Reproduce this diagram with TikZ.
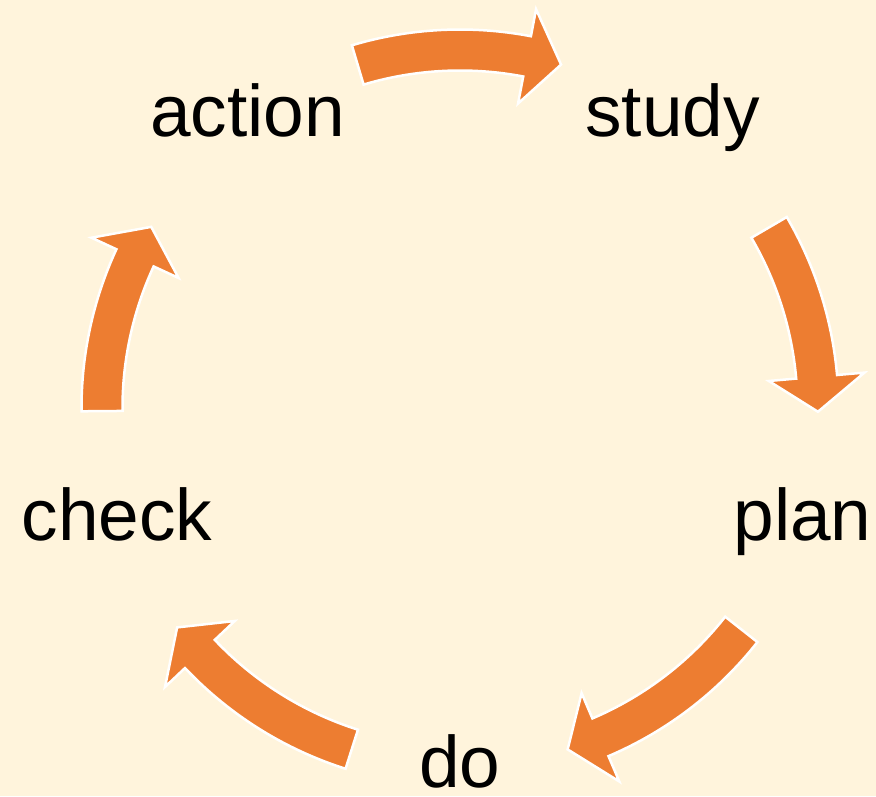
\documentclass[tikz,border=0pt]{standalone}
\usepackage{fontspec}
\setmainfont{Liberation Sans}
\definecolor{bgcream}{HTML}{FFF4DC}
\definecolor{arroworange}{HTML}{ED7D31}
\tikzset{
  cyclelabel/.style={anchor=base, inner sep=0pt, font=\fontsize{73}{80}\selectfont, text=black},
  cyclearrow/.style={fill=arroworange, draw=white, line width=2.5pt, line join=miter},
}
\newcommand\cycArrow[2]{%
  \pgfmathsetmacro\cycHb{#2+5.6}%
  \path[cyclearrow] (#1:378.5) arc[start angle=#1, end angle=\cycHb, radius=378.5]
    -- (\cycHb:406) -- (#2:358) -- (\cycHb:310) -- (\cycHb:337.5)
    arc[start angle=\cycHb, end angle=#1, radius=337.5] -- cycle;
}
\begin{document}
\begin{tikzpicture}[x=1pt,y=1pt]
  \fill[bgcream] (-460,-388) rectangle (416,408);
  \useasboundingbox (-460,-388) rectangle (416,408);
  % arrows (clockwise)
  \cycArrow{106.6}{73.6}
  \cycArrow{30.3}{-0.6}
  \cycArrow{-38.2}{-72.5}
  \cycArrow{252.4}{217.8}
  \cycArrow{180.5}{149.6}
  % labels
  \node[cyclelabel] (action) at (-212.5,272) {action};
  \node[cyclelabel] (study) at (212.5,272) {study};
  \node[cyclelabel] (plan) at (342.5,-132.5) {plan};
  \node[cyclelabel, text depth=0pt] (do) at (0,-379) {do};
  \node[cyclelabel] (check) at (-343,-132.5) {check};
\end{tikzpicture}
\end{document}
